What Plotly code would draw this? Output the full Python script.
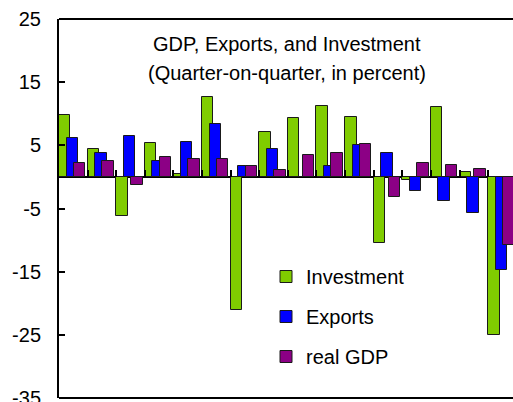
import plotly.graph_objects as go

quarters = list(range(16))
investment = [9.8, 4.4, -6.2, 5.3, 0.4, 12.6, -21.1, 7.1, 9.25, 11.3, 9.5, -10.5, -0.5, 11.05, 0.75, -25.0]
exports = [6.2, 3.75, 6.5, 2.5, 5.6, 8.35, 1.7, 4.4, 0.0, 1.65, 5.0, 3.75, -2.3, -3.8, -5.65, -14.7]
real_gdp = [2.2, 2.5, -1.2, 3.2, 2.85, 2.85, 1.7, 1.05, 3.5, 3.75, 5.2, -3.2, 2.2, 1.9, 1.3, -10.8]
y_ticks = [25, 15, 5, -5, -15, -25, -35]

FONT = "Liberation Sans, Arial, sans-serif"
W, H = 513, 402
L, R, T, B = 59, 0, 19, 4
pw, ph = W - L - R, H - T - B

def px_x(p):
    return (p - L) / pw

def px_y(p):
    return (H - B - p) / ph

series = [
    ("Investment", investment, "#80CC00", -0.5),
    ("Exports", exports, "#0000FF", -0.235),
    ("real GDP", real_gdp, "#8C0085", 0.02),
]

fig = go.Figure()
for i, (name, vals, col, off) in enumerate(series):
    fig.add_trace(go.Bar(
        x=quarters, y=vals, name=name, width=0.4, offset=off,
        marker=dict(color=col, line=dict(color="#1a1a1a", width=1)),
        legendgroup=f"g{i}",
    ))

ymin, ymax = -35, 25
zero_pos = (0 - ymin) / (ymax - ymin)

fig.update_layout(
    width=W, height=H,
    margin=dict(l=L, r=R, t=T, b=B, pad=0, autoexpand=False),
    paper_bgcolor="white", plot_bgcolor="white",
    barmode="overlay", bargap=0,
    font=dict(family=FONT, size=20, color="black"),
    showlegend=True,
    legend=dict(x=px_x(266), y=px_y(257), xanchor="left", yanchor="top",
                bgcolor="rgba(0,0,0,0)", font=dict(size=20, family=FONT),
                tracegroupgap=11, itemclick=False),
    xaxis=dict(range=[-0.5, 15.37], anchor="free", position=zero_pos, side="bottom",
               showline=False, tickmode="array",
               tickvals=[k + 0.5 for k in range(15)], ticks="inside", ticklen=7,
               tickwidth=2, tickcolor="black", showticklabels=False, showgrid=False,
               zeroline=False, automargin=False),
    yaxis=dict(range=[ymin, ymax], tickmode="array", tickvals=y_ticks,
               ticktext=[str(v) for v in y_ticks], showline=True, linecolor="black",
               linewidth=2, ticks="inside", ticklen=6, tickwidth=2, tickcolor="black",
               showgrid=False, zeroline=True, zerolinecolor="black", zerolinewidth=1.5,
               ticklabelstandoff=12, ticklabeloverflow="allow", automargin=False,
               tickfont=dict(size=20, family=FONT)),
    shapes=[
        dict(type="line", xref="paper", yref="paper", x0=0, x1=1.05, y0=1, y1=1,
             line=dict(color="black", width=2)),
        dict(type="line", xref="paper", yref="paper", x0=0, x1=1.05, y0=0, y1=0,
             line=dict(color="black", width=2)),
    ],
    annotations=[
        dict(text="GDP, Exports, and Investment", xref="paper", yref="paper",
             x=px_x(287), y=px_y(44), xanchor="center", yanchor="middle",
             showarrow=False, font=dict(size=20, family=FONT)),
        dict(text="(Quarter-on-quarter, in percent)", xref="paper", yref="paper",
             x=px_x(287), y=px_y(73), xanchor="center", yanchor="middle",
             showarrow=False, font=dict(size=20, family=FONT)),
    ],
)

fig.write_html("out.html")
